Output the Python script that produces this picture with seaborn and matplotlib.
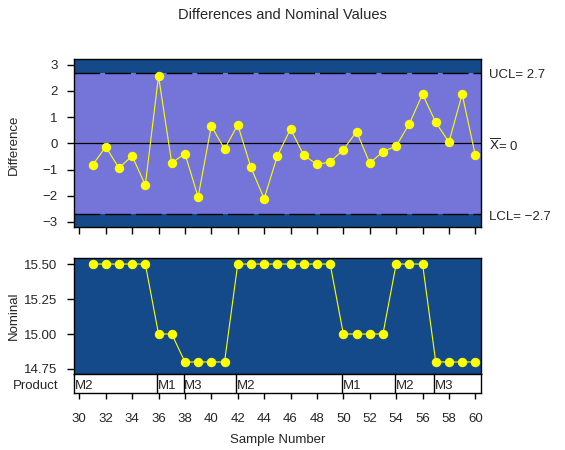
import numpy as np
import pandas as pd
import seaborn as sns
import matplotlib
matplotlib.use("Agg")
import matplotlib.pyplot as plt
import matplotlib.transforms as mtransforms

# data
samples = list(range(31, 61))
difference = [-0.83, -0.13, -0.94, -0.48, -1.59, 2.57, -0.75, -0.39, -2.05, 0.67,
              -0.22, 0.71, -0.92, -2.11, -0.48, 0.55, -0.45, -0.80, -0.71, -0.24,
              0.45, -0.75, -0.32, -0.10, 0.75, 1.88, 0.80, 0.05, 1.88, -0.46]
nominal = [15.5, 15.5, 15.5, 15.5, 15.5, 15.0, 15.0, 14.8, 14.8, 14.8,
           14.8, 15.5, 15.5, 15.5, 15.5, 15.5, 15.5, 15.5, 15.5, 15.0,
           15.0, 15.0, 15.0, 15.5, 15.5, 15.5, 14.8, 14.8, 14.8, 14.8]
product_names = ["M2", "M1", "M3", "M2", "M1", "M2", "M3"]
product_start = [31, 36, 38, 42, 50, 54, 57]
ucl, center, lcl = 2.7, 0.0, -2.7

df = pd.DataFrame({"Sample": samples, "Difference": difference, "Nominal": nominal})

sns.set_style("ticks")
plt.rcParams["font.family"] = ["Liberation Sans", "DejaVu Sans"]
plt.rcParams["font.size"] = 9.5

light = "#7575D9"
dark = "#144A8A"
W, H = 565, 450


def box(l, t, r, b):
    return [l / W, 1 - b / H, (r - l) / W, (b - t) / H]


fig = plt.figure(figsize=(W / 100, H / 100), dpi=100)
ax1 = fig.add_axes(box(74.3, 59.3, 481.3, 226.7))
ax2 = fig.add_axes(box(74.3, 258.3, 481.3, 374.3))
ax3 = fig.add_axes(box(74.3, 374.3, 481.3, 393.3))

xlim = (29.62, 60.45)
xticks = list(range(30, 61, 2))

# top panel: differences with control limits
ax1.set_facecolor(dark)
ax1.axhspan(lcl, ucl, color=light, lw=0, zorder=0)
ax1.axhline(center, color="black", lw=0.9, zorder=1)
for lim in (ucl, lcl):
    ax1.axhline(lim, color="black", lw=1, ls=(0, (18.5, 3.6)), zorder=1)
sns.lineplot(data=df, x="Sample", y="Difference", ax=ax1, color="yellow", lw=0.8,
             marker="o", markersize=6, markeredgecolor="yellow", zorder=3)
ax1.set_xlim(xlim)
ax1.set_ylim(-3.18, 3.21)
ax1.set_yticks(range(-3, 4))
ax1.set_xticks(xticks)
ax1.set_xticklabels([])
ax1.set_xlabel("")
ax1.set_ylabel("")

trans = mtransforms.blended_transform_factory(ax1.transAxes, ax1.transData)
ax1.text(1.019, ucl - 0.1, "UCL= 2.7", transform=trans, va="center", ha="left")
ax1.text(1.019, center - 0.1, r"$\overline{\mathrm{X}}$= 0", transform=trans, va="center", ha="left")
ax1.text(1.019, lcl - 0.1, "LCL= \u22122.7", transform=trans, va="center", ha="left")

# bottom panel: nominal values
ax2.set_facecolor(dark)
sns.lineplot(data=df, x="Sample", y="Nominal", ax=ax2, color="yellow", lw=0.8,
             marker="o", markersize=6, markeredgecolor="yellow", zorder=3)
ax2.set_xlim(xlim)
ax2.set_ylim(14.712, 15.541)
ax2.set_yticks([14.75, 15.0, 15.25, 15.5])
ax2.set_yticklabels(["14.75", "15.00", "15.25", "15.50"])
ax2.set_xticks([])
ax2.set_xlabel("")
ax2.set_ylabel("")

# product strip
ax3.set_facecolor("white")
ax3.set_xlim(xlim)
ax3.set_ylim(0, 1)
ax3.set_yticks([])
for i, (name, start) in enumerate(zip(product_names, product_start)):
    left = xlim[0] if i == 0 else start - 0.1
    if i > 0:
        ax3.axvline(left, color="black", lw=1)
    ax3.text(left + 0.05, 0.4, name, va="center", ha="left")
ax3.set_xticks(xticks)
ax3.set_xlabel("Sample Number", labelpad=7)
fig.text(58 / W, 1 - 386 / H, "Product", ha="right", va="center")

for ax in (ax1, ax2, ax3):
    for s in ax.spines.values():
        s.set_color("black")
        s.set_linewidth(1)
    ax.tick_params(axis="both", direction="out", length=5, width=1, color="black", pad=7)
ax3.tick_params(axis="x", length=4, pad=10)

fig.text(14 / W, 1 - 145 / H, "Difference", rotation=90, ha="center", va="center")
fig.text(14 / W, 1 - 316 / H, "Nominal", rotation=90, ha="center", va="center")
fig.suptitle("Differences and Nominal Values", y=1 - 15 / H, va="center", fontsize=10.5)

fig.savefig("out.png", dpi=100)
